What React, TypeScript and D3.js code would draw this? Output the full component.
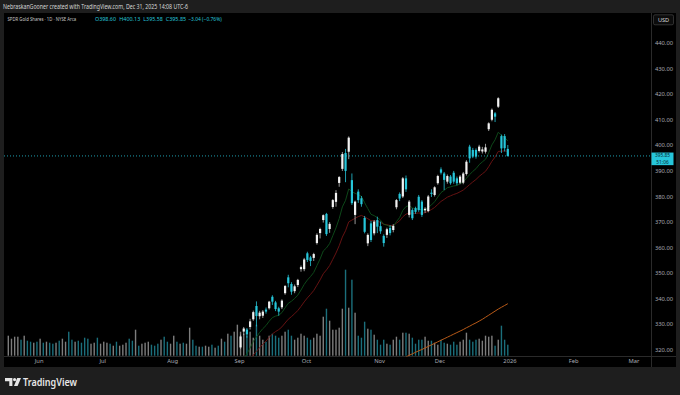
import React from 'react';
import * as d3 from 'd3';

const W = 680;
const H = 395;

// first bar of the loaded range and US market holidays
const firstDay = '2025-05-16';
const lastAxisDay = '2026-03-31';
const holidays = ['2025-05-26', '2025-06-19', '2025-07-04', '2025-09-01', '2025-11-27', '2025-12-25', '2026-01-01', '2026-01-19', '2026-02-16'];

const opens = [
  295.0, 296.0, 299.5, 302.5, 304.5, 303.5, 305.5, 302.0, 302.4, 304.6,
  306.5, 310.5, 307.8, 310.0, 309.2, 305.8, 308.0, 307.2, 309.8, 316.8,
  315.2, 312.0, 312.8, 311.0, 312.0, 309.5, 305.8, 306.8, 305.2, 302.5,
  305.5, 308.5, 309.0, 306.2, 306.9, 304.2, 306.0, 308.0, 308.8, 308.5,
  307.0, 309.5, 308.2, 310.5, 314.0, 315.0, 311.5, 309.0, 306.0, 307.2,
  304.0, 302.0, 305.5, 310.2, 310.0, 311.8, 311.0, 312.5, 311.8, 309.0,
  308.8, 310.0, 307.5, 308.0, 308.0, 307.0, 308.5, 308.6, 310.5, 310.0,
  312.8, 312.3, 314.0, 321.0, 327.2, 328.0, 329.0, 332.0, 337.2, 333.2,
  333.4, 335.8, 336.3, 340.8, 338.6, 336.3, 336.7, 342.2, 348.4, 345.8,
  343.0, 345.4, 351.6, 351.6, 357.8, 356.2, 356.0, 361.8, 365.7, 370.8,
  373.2, 367.3, 375.9, 377.9, 385.3, 390.8, 397.0, 397.5, 386.4, 372.8,
  381.9, 379.3, 371.6, 361.7, 369.5, 365.6, 370.8, 368.4, 364.6, 365.0,
  367.7, 366.9, 375.8, 381.0, 380.0, 387.1, 372.8, 374.7, 375.4, 379.9,
  378.0, 374.6, 374.3, 381.5, 380.6, 385.2, 390.6, 389.0, 385.8, 387.8,
  389.3, 387.1, 385.4, 385.4, 388.8, 399.5, 398.2, 398.2, 397.8, 397.6,
  397.5, 406.3, 410.0, 412.5, 415.1, 403.6, 403.6, 398.6,
];
const highs = [
  297.2, 298.5, 303.0, 305.0, 305.2, 309.3, 306.2, 303.0, 304.4, 305.3,
  310.8, 311.2, 310.4, 310.6, 309.8, 308.3, 308.8, 309.4, 313.8, 317.2,
  315.8, 313.4, 313.5, 311.9, 312.6, 310.2, 307.2, 308.3, 305.9, 305.5,
  309.5, 310.6, 309.8, 308.1, 307.5, 305.8, 307.3, 310.2, 309.5, 309.2,
  310.7, 310.2, 309.8, 314.4, 316.7, 315.8, 312.3, 309.8, 307.8, 307.9,
  304.7, 303.6, 310.6, 310.9, 312.2, 312.3, 313.0, 315.0, 312.4, 309.8,
  310.6, 310.7, 309.0, 309.5, 308.8, 309.6, 309.2, 311.4, 311.2, 312.9,
  313.5, 314.3, 317.1, 326.0, 329.0, 328.6, 332.2, 335.4, 339.0, 335.3,
  335.6, 336.6, 339.2, 341.4, 339.2, 336.9, 339.8, 345.4, 349.4, 346.5,
  345.6, 347.8, 353.0, 356.0, 358.4, 356.8, 358.0, 365.6, 367.8, 373.0,
  373.6, 370.0, 379.0, 382.5, 388.0, 397.4, 398.6, 403.5, 389.0, 378.4,
  382.8, 380.2, 372.4, 365.6, 370.4, 370.8, 372.1, 370.2, 365.2, 367.8,
  368.8, 369.2, 379.0, 381.6, 387.6, 388.2, 378.6, 375.4, 376.0, 380.6,
  378.6, 375.8, 380.6, 382.8, 384.0, 388.5, 391.4, 389.6, 388.6, 388.4,
  390.0, 387.8, 388.4, 389.6, 394.2, 400.2, 399.0, 398.8, 400.2, 399.4,
  400.6, 409.0, 414.4, 413.0, 418.8, 404.2, 404.4, 400.13,
];
const lows = [
  294.2, 295.3, 299.0, 301.8, 302.0, 302.8, 302.0, 300.6, 301.5, 302.8,
  305.8, 307.2, 307.0, 308.2, 305.3, 305.0, 306.2, 306.5, 309.0, 314.8,
  311.6, 311.2, 310.8, 310.0, 309.8, 305.4, 305.0, 306.0, 300.6, 301.8,
  304.8, 307.8, 306.8, 305.5, 304.8, 303.6, 305.2, 307.4, 307.0, 305.6,
  306.2, 306.8, 307.4, 309.8, 313.2, 311.8, 308.8, 306.8, 305.2, 304.6,
  301.0, 301.2, 304.8, 308.2, 309.2, 309.6, 310.2, 311.8, 308.5, 307.4,
  308.0, 307.4, 306.8, 307.2, 305.8, 306.3, 307.0, 307.8, 308.8, 309.3,
  311.2, 311.6, 313.2, 320.4, 325.8, 324.8, 328.0, 331.4, 329.2, 332.0,
  332.5, 334.2, 335.8, 337.6, 335.2, 333.4, 336.0, 341.6, 344.5, 341.6,
  342.2, 344.6, 350.6, 350.8, 354.4, 352.8, 354.8, 361.2, 363.6, 369.8,
  364.6, 365.8, 375.2, 376.0, 383.8, 390.0, 385.6, 394.6, 376.7, 369.2,
  377.5, 376.0, 365.6, 360.6, 362.2, 364.8, 365.7, 365.4, 360.4, 363.8,
  364.8, 366.0, 375.0, 378.2, 379.4, 381.8, 371.8, 370.8, 373.2, 374.0,
  372.0, 373.6, 373.8, 379.8, 380.0, 384.6, 388.6, 382.5, 385.0, 384.6,
  385.0, 384.4, 384.8, 384.8, 388.2, 393.2, 395.0, 394.8, 397.2, 396.8,
  396.8, 405.6, 409.4, 409.1, 414.6, 397.0, 397.6, 395.58,
];
const closes = [
  296.5, 297.5, 302.0, 304.2, 302.6, 308.5, 302.6, 301.5, 303.6, 303.6,
  310.0, 308.0, 309.5, 309.0, 306.0, 307.5, 307.0, 308.6, 313.0, 316.0,
  312.5, 312.6, 311.6, 310.9, 310.6, 306.2, 306.5, 307.5, 301.3, 304.8,
  308.8, 309.9, 307.6, 307.3, 305.5, 305.0, 306.5, 309.5, 307.9, 306.4,
  309.9, 307.6, 309.0, 313.6, 315.9, 312.6, 309.6, 307.6, 307.0, 305.4,
  301.8, 302.8, 309.9, 309.0, 311.5, 310.4, 312.2, 314.3, 309.3, 308.2,
  309.9, 308.2, 308.2, 308.7, 306.5, 308.9, 307.8, 310.6, 309.6, 312.2,
  312.1, 313.6, 316.3, 325.3, 328.4, 326.1, 331.2, 334.8, 333.3, 334.6,
  335.0, 335.0, 338.9, 338.9, 336.0, 335.0, 339.3, 345.0, 346.1, 342.8,
  344.9, 347.4, 352.4, 355.4, 355.2, 354.8, 357.5, 365.0, 367.3, 372.7,
  365.3, 369.3, 378.6, 381.4, 387.6, 396.6, 390.0, 403.0, 377.4, 378.0,
  378.6, 377.0, 366.2, 365.0, 363.0, 370.2, 368.2, 366.4, 361.8, 367.2,
  365.7, 368.5, 378.6, 379.2, 387.1, 382.8, 378.0, 371.5, 374.0, 374.7,
  372.8, 375.2, 380.0, 381.0, 383.6, 388.0, 389.3, 386.5, 388.0, 385.2,
  385.8, 385.2, 387.8, 389.0, 393.6, 394.9, 395.6, 395.6, 399.5, 398.4,
  399.2, 408.6, 413.9, 411.2, 418.4, 398.8, 398.89, 395.85,
];
// millions of shares
const volumes = [
  10.0, 8.5, 9.5, 9.5, 8.0, 10.0, 7.5, 7.0, 6.5, 7.0,
  8.5, 6.5, 7.0, 6.5, 6.0, 6.5, 7.5, 8.5, 7.0, 12.0,
  8.0, 7.0, 7.5, 6.5, 9.0, 8.5, 6.0, 6.5, 9.0, 6.0,
  7.0, 6.5, 6.0, 5.0, 7.0, 5.0, 5.5, 6.5, 8.5, 7.5,
  13.0, 5.0, 6.0, 6.5, 7.0, 5.5, 5.0, 6.0, 8.0, 9.5,
  7.0, 6.0, 10.0, 7.0, 6.0, 6.5, 6.0, 14.0, 8.0, 5.0,
  4.5, 4.5, 5.0, 4.5, 5.5, 4.0, 5.0, 8.5, 7.0, 11.0,
  10.0, 12.0, 15.5, 12.0, 11.0, 10.0, 12.0, 9.0, 15.5, 10.0,
  8.0, 7.0, 10.0, 11.0, 10.0, 9.0, 10.0, 12.0, 13.0, 10.0,
  8.0, 9.0, 11.0, 10.0, 9.0, 8.0, 9.0, 11.0, 10.0, 19.5,
  23.5, 17.5, 13.0, 13.0, 14.0, 23.5, 43.0, 24.0, 38.0, 21.5,
  10.0, 9.0, 17.0, 13.5, 13.0, 10.5, 8.0, 5.5, 8.0, 6.0,
  5.5, 8.0, 9.5, 8.0, 11.5, 11.5, 11.0, 9.0, 6.0, 8.0,
  8.0, 9.5, 7.5, 7.5, 6.5, 5.5, 8.0, 6.5, 6.0, 5.5,
  7.0, 5.5, 7.0, 8.0, 11.5, 8.0, 7.0, 8.0, 8.5, 7.5,
  10.0, 9.5, 10.0, 5.0, 8.0, 15.0, 8.0, 5.5,
];
// 200-day SMA, shown from bar 125 on
const sma200Start = 125;
const sma200 = [
  317.3, 317.9, 318.5, 319.1, 319.7, 320.2, 320.8, 321.4, 322.0, 322.6,
  323.2, 323.8, 324.4, 325.0, 325.6, 326.2, 326.8, 327.4, 328.0, 328.7,
  329.3, 330.0, 330.6, 331.3, 332.0, 332.8, 333.6, 334.4, 335.2, 336.0,
  336.7, 337.4, 338.1,
];
const priceTicks = [320, 330, 340, 350, 360, 370, 380, 390, 400, 410, 420, 430, 440];
const legendValues = ['O398.60', 'H400.13', 'L395.58', 'C395.85', '\u22123.04 (\u22120.76%)'];

const UP = '#f2f2f2';
const DOWN = '#26c6da';
const VOL_UP = '#7d7d7d';
const VOL_DOWN = '#1b6f7c';
const AXIS_TEXT = '#a9abb3';
const FONT = "'Noto Sans', 'DejaVu Sans', sans-serif";

function tradingDays(start: string, end: string) {
  const out: Date[] = [];
  const off = new Set(holidays);
  const d = new Date(start + 'T12:00:00Z');
  const e = new Date(end + 'T12:00:00Z');
  while (d <= e) {
    const wd = d.getUTCDay();
    const key = d.toISOString().slice(0, 10);
    if (wd !== 0 && wd !== 6 && !off.has(key)) out.push(new Date(d));
    d.setUTCDate(d.getUTCDate() + 1);
  }
  return out;
}

function ema(values: number[], n: number) {
  const k = 2 / (n + 1);
  const out: number[] = [];
  values.forEach((v, i) => out.push(i === 0 ? v : v * k + out[i - 1] * (1 - k)));
  return out;
}

export default function App() {
  const days = tradingDays(firstDay, lastAxisDay);
  const last = closes.length - 1;

  const pane = { left: 4, right: 651.5, top: 13, bottom: 356.5 };
  const x = d3.scaleLinear().domain([0, last]).range([8.3, 507.8]);
  const y = d3.scaleLinear().domain([320, 440]).range([350, 43]);
  const yVol = d3.scaleLinear().domain([0, d3.max(volumes) as number]).range([355.7, 269.7]);

  const fast = ema(closes, 10);
  const slow = ema(closes, 20);
  const line = d3.line<number>().x((_, i) => x(i)).y((d) => y(d));
  const smaLine = d3.line<number>().x((_, i) => x(i + sma200Start)).y((d) => y(d));

  // month ticks: first trading day of each month
  const monthTicks: { i: number; label: string }[] = [];
  days.forEach((d, i) => {
    if (i === 0) return;
    if (d.getUTCMonth() !== days[i - 1].getUTCMonth()) {
      const label = d.getUTCMonth() === 0 ? String(d.getUTCFullYear()) : d3.utcFormat('%b')(d);
      monthTicks.push({ i, label });
    }
  });

  const bodyW = 2.2;
  const lastClose = closes[last];
  const lastY = y(lastClose);
  const legendX = [95, 119.3, 143.3, 165.7, 188.3];
  const legendLen = [21, 21, 19.5, 20.5, 33.4];

  return (
    <svg width={W} height={H} style={{ position: 'absolute', left: 0, top: 0, fontFamily: FONT }}>
      <defs>
        <clipPath id="paneClip">
          <rect x={pane.left} y={pane.top} width={pane.right - pane.left} height={pane.bottom - pane.top} />
        </clipPath>
      </defs>
      <rect x={0} y={0} width={W} height={H} fill="#1e1e1e" />
      <rect x={pane.left} y={pane.top} width={676 - pane.left} height={367 - pane.top} fill="#000" />

      <text x={3} y={8.6} fontSize={6.5} fill="#d6d6d6" textLength={185} lengthAdjust="spacingAndGlyphs">
        NebraskanGooner created with TradingView.com, Dec 31, 2025 14:08 UTC-6
      </text>

      {/* separators */}
      <line x1={pane.right} x2={pane.right} y1={pane.top} y2={367} stroke="#2a2a2a" />
      <line x1={pane.left} x2={676} y1={pane.bottom} y2={pane.bottom} stroke="#2a2a2a" />

      <g clipPath="url(#paneClip)">
        {volumes.map((v, i) => (
          <rect key={'v' + i} x={x(i) - 0.7} width={1.4} y={yVol(v)} height={yVol(0) - yVol(v)}
            fill={closes[i] >= opens[i] ? VOL_UP : VOL_DOWN} />
        ))}
        <path d={smaLine(sma200) || ''} fill="none" stroke="#b85a18" strokeWidth={1} />
        <path d={line(slow) || ''} fill="none" stroke="#701414" strokeWidth={0.9} />
        <path d={line(fast) || ''} fill="none" stroke="#0e4f1c" strokeWidth={0.9} />
        {closes.map((c, i) => {
          const o = opens[i];
          const up = c >= o;
          const col = up ? UP : DOWN;
          const top = y(Math.max(o, c));
          const h = Math.max(0.8, y(Math.min(o, c)) - top);
          return (
            <g key={'c' + i}>
              <line x1={x(i)} x2={x(i)} y1={y(highs[i])} y2={y(lows[i])} stroke={up ? '#bdbdbd' : DOWN} strokeWidth={0.8} />
              <rect x={x(i) - bodyW / 2} width={bodyW} y={top} height={h} fill={col} />
            </g>
          );
        })}
        <line x1={pane.left} x2={pane.right} y1={lastY} y2={lastY} stroke={DOWN} strokeWidth={0.8} strokeDasharray="1 2" />
      </g>

      {/* legend */}
      <text transform="translate(7.5 20.6) scale(0.74 1)" fontSize={5.8} fill="#c8c8c8">
        SPDR Gold Shares · 1D · NYSE Arca
      </text>
      <text y={20.6} fontSize={5.6}>
        {legendValues.map((t, i) => (
          <tspan key={t} x={legendX[i]} fill={DOWN} textLength={legendLen[i]} lengthAdjust="spacingAndGlyphs">{t}</tspan>
        ))}
      </text>

      {/* USD button */}
      <rect x={653.5} y={14.8} width={20} height={10} rx={1.5} fill="#0c0c0c" stroke="#444" strokeWidth={0.7} />
      <text x={663.5} y={22} fontSize={5.6} fill="#d8d8d8" textAnchor="middle">USD</text>

      {/* price axis */}
      {priceTicks.map((p) => (
        <text key={p} x={664} y={y(p) + 2} fontSize={5.8} fill={AXIS_TEXT} textAnchor="middle">
          {p.toFixed(2)}
        </text>
      ))}
      <rect x={651.5} y={lastY - 3.4} width={22} height={12.6} fill={DOWN} />
      <text x={662.5} y={lastY + 1.5} fontSize={4.8} fill="#062a30" textAnchor="middle">{lastClose.toFixed(2)}</text>
      <text x={662.5} y={lastY + 7.9} fontSize={4.8} fill="#062a30" textAnchor="middle">51:06</text>

      {/* time axis */}
      {monthTicks.filter((t) => x(t.i) < pane.right - 5).map((t) => (
        <text key={t.label} x={x(t.i) - 1} y={363.2} fontSize={5.8} fill={AXIS_TEXT} textAnchor="middle">{t.label}</text>
      ))}

      {/* logo */}
      <g fill="#e6e6e6">
        <path d="M5 378 H12.4 V386 H9.3 V381.2 H5 Z" />
        <circle cx={14.6} cy={379.6} r={1.6} />
        <path d="M17.2 378 H21 L17.6 386 H14 Z" />
      </g>
      <text x={23} y={385.6} fontSize={10.5} fontWeight={600} fill="#e6e6e6" textLength={54} lengthAdjust="spacingAndGlyphs">
        TradingView
      </text>
    </svg>
  );
}
